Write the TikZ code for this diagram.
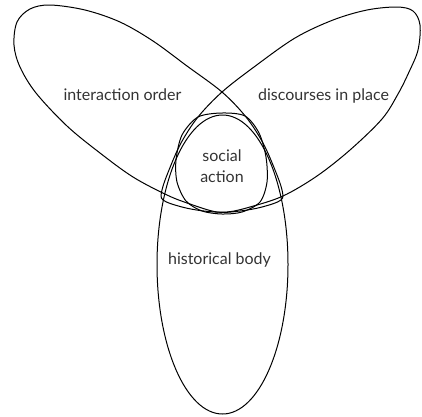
\documentclass[tikz,border=0pt]{standalone}
\usepackage{fontspec}
\setmainfont{Lato}
\begin{document}
\begin{tikzpicture}[x=1pt, y=-1pt, line width=1pt,
  lbl/.style={font=\fontsize{16}{21}\selectfont, text=black!80, inner sep=0pt}]
  \useasboundingbox (0,0) rectangle (422,416);
  % left lobe
  \draw plot[smooth cycle, tension=0.55] coordinates {(50,5) (85,10) (120,22) (153,41)
    (187,66) (222,92) (246,117) (263,143) (275,170) (282,190) (281,200) (262,207)
    (240,211) (217,212) (190,204) (167,195) (133,177) (100,153) (67,126) (36,93)
    (20,67) (14,45) (17,22) (30,9)};
  % right lobe
  \draw plot[smooth cycle, tension=0.55] coordinates {(222,92) (254,67) (295,38)
    (333,20) (367,10) (397,7) (413,11) (420,25) (418,50) (409,72) (398,94)
    (382,119) (350,150) (317,176) (283,196) (250,207) (227,212) (204,211) (182,207)
    (163,200) (162,190) (169,170) (181,143) (198,117)};
  % lower oval
  \draw (222.5,264.5) ellipse[x radius=65.5pt, y radius=149.5pt];
  % the small one in the middle
  \draw plot[smooth cycle] coordinates {(222,113) (245,116) (259,133) (266,157)
    (267,182) (260,202) (242,212) (222,214) (202,211) (186,201) (177,182) (176,160)
    (182,135) (198,117)};
  \node[lbl] (inter) at (122.5,95) {interaction order};
  \node[lbl] (disc) at (323.5,96) {discourses in place};
  \node[lbl, align=center] (act) at (222,166.5) {social\\action};
  \node[lbl] (hist) at (219.5,260) {historical body};
\end{tikzpicture}
\end{document}
